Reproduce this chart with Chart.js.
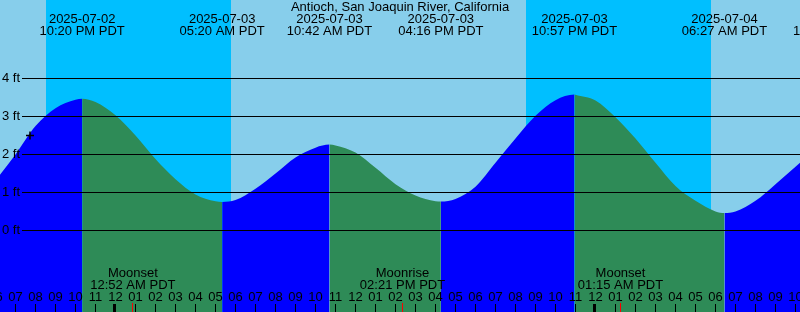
<!DOCTYPE html>
<html>
<head>
<meta charset="utf-8">
<script src="https://cdn.jsdelivr.net/npm/chart.js@4/dist/chart.umd.min.js"></script>
<style>
  html, body { margin: 0; padding: 0; overflow: hidden; background: #87CEEB; }
  canvas { display: block; }
</style>
</head>
<body>
<canvas id="tideChart" width="800" height="312"></canvas>
<script>
// hours counted from 2025-07-02 00:00 PDT
const times  = [18.225, 19, 20, 21, 22, 22.333, 23, 24, 25, 26, 27, 28, 29, 29.333,
                30, 31, 32, 33, 34, 34.7, 35, 36, 37, 38, 39, 40, 40.267,
                41, 42, 43, 44, 45, 46, 46.95, 47, 48, 49, 50, 51, 52, 53, 54, 54.45,
                55, 56, 57, 58, 58.225];
const levels = [1.47, 2.0, 2.75, 3.22, 3.44, 3.47, 3.38, 3.03, 2.5, 1.88, 1.35, 0.95, 0.77, 0.75,
                0.8, 1.1, 1.5, 1.92, 2.18, 2.26, 2.24, 2.05, 1.65, 1.22, 0.92, 0.77, 0.76,
                0.83, 1.15, 1.78, 2.42, 3.02, 3.43, 3.58, 3.57, 3.42, 2.98, 2.42, 1.78, 1.17, 0.78, 0.5, 0.46,
                0.5, 0.78, 1.22, 1.68, 1.78];

const extremeTimes = [22.333, 29.333, 34.7, 40.267, 46.95, 54.45, 59.98];
const extremeDates = ['2025-07-02', '2025-07-03', '2025-07-03', '2025-07-03', '2025-07-03', '2025-07-04', '2025-07-04'];
const extremeClock = ['10:20 PM PDT', '05:20 AM PDT', '10:42 AM PDT', '04:16 PM PDT', '10:57 PM PDT', '06:27 AM PDT', '11:59 AM PDT'];

const moonTimes  = [24.867, 38.35, 49.25];
const moonEvents = ['Moonset', 'Moonrise', 'Moonset'];
const moonClock  = ['12:52 AM PDT', '02:21 PM PDT', '01:15 AM PDT'];

const nightStarts = [20.52, 44.52];
const nightEnds   = [29.78, 53.78];

const gridLevels = [0, 1, 2, 3, 4];
const hourTicks = [];
for (let h = 18; h <= 58; h++) hourTicks.push(h);

const nowTime = 19.725;
const nowLevel = 2.5;

const title = 'Antioch, San Joaquin River, California';

const DAY = '#87CEEB', NIGHT = '#00BFFF', RISING = '#0000FF', FALLING = '#2E8B57';
const FONT = '13px "Liberation Sans", Arial, sans-serif';

const hourLabel = h => String(h % 12 === 0 ? 12 : h % 12).padStart(2, '0');

const tideDecor = {
    id: 'tideDecor',
    beforeDatasetsDraw(chart) {
        const { ctx, chartArea: a, scales: { x } } = chart;
        ctx.save();
        ctx.fillStyle = DAY;
        ctx.fillRect(a.left, a.top, a.right - a.left, a.bottom - a.top);
        ctx.fillStyle = NIGHT;
        nightStarts.forEach((s, i) => {
            const x0 = Math.round(x.getPixelForValue(s));
            const x1 = Math.round(x.getPixelForValue(nightEnds[i]));
            ctx.fillRect(x0, a.top, x1 - x0, a.bottom - a.top);
        });
        ctx.restore();
    },
    afterDatasetsDraw(chart) {
        const { ctx, chartArea: a, scales: { x, y } } = chart;
        ctx.save();
        ctx.fillStyle = '#000';
        ctx.strokeStyle = '#000';
        ctx.font = FONT;
        ctx.textBaseline = 'middle';

        // height grid + labels
        ctx.lineWidth = 1;
        gridLevels.forEach(v => {
            const py = Math.floor(y.getPixelForValue(v)) + 0.5;
            ctx.beginPath();
            ctx.moveTo(22, py);
            ctx.lineTo(a.right, py);
            ctx.stroke();
            ctx.textAlign = 'left';
            ctx.fillText(v + ' ft', 2, py);
        });

        // title and tide extremes
        ctx.textAlign = 'center';
        ctx.fillText(title, 400, 7);
        extremeTimes.forEach((t, i) => {
            const px = x.getPixelForValue(t);
            ctx.fillText(extremeDates[i], px, 19.5);
            ctx.fillText(extremeClock[i], px, 31.5);
        });

        // moon events
        moonTimes.forEach((t, i) => {
            const px = x.getPixelForValue(t);
            ctx.fillText(moonEvents[i], px, 273.5);
            ctx.fillText(moonClock[i], px, 285.5);
        });

        // hour labels and ticks
        hourTicks.forEach(h => {
            const px = x.getPixelForValue(h);
            ctx.fillText(hourLabel(h), px, 297);
            const col = Math.floor(px);
            if (h % 24 === 0) ctx.fillRect(col - 2, 304, 3, 8);
            else ctx.fillRect(col, 304, 1, 8);
        });
        ctx.fillStyle = '#FF0000';
        moonTimes.forEach(t => {
            const col = Math.floor(x.getPixelForValue(t));
            ctx.fillRect(col, 303, 1, 9);
        });
        ctx.restore();
    }
};

const ctx = document.getElementById('tideChart').getContext('2d');
const tideChart = new Chart(ctx, {
    type: 'line',
    data: {
        datasets: [{
            data: times.map((t, i) => ({ x: t, y: levels[i] })),
            fill: 'start',
            backgroundColor: RISING,
            borderColor: 'rgba(0,0,0,0)',
            borderWidth: 0,
            pointRadius: 0,
            cubicInterpolationMode: 'monotone',
            segment: {
                backgroundColor: c => c.p1.parsed.y >= c.p0.parsed.y ? RISING : FALLING
            }
        }, {
            type: 'scatter',
            order: -1, // draw the "now" mark over the tide
            data: [{ x: nowTime, y: nowLevel }],
            pointStyle: 'cross',
            pointRadius: 4,
            borderColor: '#000',
            borderWidth: 1.5
        }]
    },
    options: {
        responsive: false,
        animation: false,
        devicePixelRatio: 1,
        layout: { padding: 0, autoPadding: false },
        plugins: { legend: { display: false }, tooltip: { enabled: false } },
        scales: {
            x: { type: 'linear', min: 18.225, max: 58.225, display: false },
            y: { min: -2.145, max: 6.066, display: false }
        }
    },
    plugins: [tideDecor]
});
</script>
</body>
</html>
